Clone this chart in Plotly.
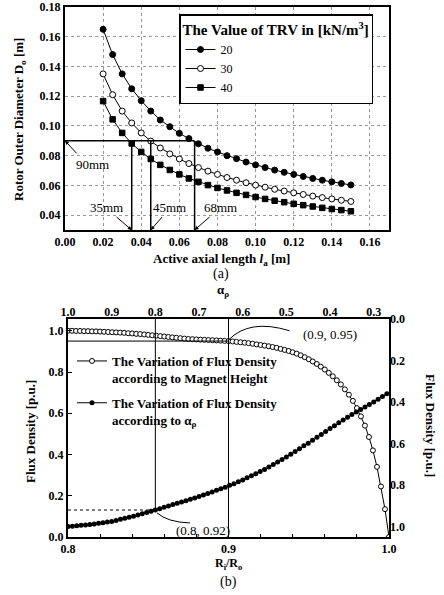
import plotly.graph_objects as go

W, H = 444, 595
def px(x): return x / W
def py(y): return 1 - y / H

# ---------------- data: panel (a) ----------------
axial_len = [0.020, 0.025, 0.030, 0.035, 0.040, 0.045, 0.050, 0.055, 0.060,
             0.065, 0.070, 0.075, 0.080, 0.085, 0.090, 0.095, 0.100, 0.105,
             0.110, 0.115, 0.120, 0.125, 0.130, 0.135, 0.140, 0.145, 0.150]
trv_labels = ["20", "30", "40"]
d_trv20 = [0.165, 0.148, 0.135, 0.125, 0.117, 0.110, 0.104, 0.0995, 0.095,
           0.0915, 0.088, 0.085, 0.0825, 0.080, 0.078, 0.0757, 0.0738, 0.072,
           0.0703, 0.0688, 0.0674, 0.066, 0.0647, 0.0635, 0.0624, 0.0613, 0.0603]
d_trv30 = [0.135, 0.121, 0.110, 0.102, 0.0953, 0.0898, 0.0852, 0.0812, 0.0778,
           0.0747, 0.0720, 0.0696, 0.0674, 0.0653, 0.0635, 0.0618, 0.0602, 0.0588,
           0.0574, 0.0562, 0.0550, 0.0539, 0.0528, 0.0518, 0.0509, 0.0500, 0.0492]
d_trv40 = [0.1167, 0.1044, 0.0953, 0.0882, 0.0825, 0.0778, 0.0738, 0.0704, 0.0674,
           0.0647, 0.0624, 0.0602, 0.0583, 0.0566, 0.0550, 0.0536, 0.0522, 0.0509,
           0.0497, 0.0487, 0.0476, 0.0467, 0.0458, 0.0449, 0.0441, 0.0434, 0.0426]
a_xticks = [0.00, 0.02, 0.04, 0.06, 0.08, 0.10, 0.12, 0.14, 0.16]
a_yticks = [0.04, 0.06, 0.08, 0.10, 0.12, 0.14, 0.16, 0.18]
sel_d = 0.09
sel_len = [0.035, 0.045, 0.068]
sel_labels = ["35mm", "45mm", "68mm"]

# ---------------- data: panel (b) ----------------
ratio_rio = [0.8, 0.8025, 0.805, 0.8075, 0.81, 0.8125, 0.815, 0.8175, 0.82, 0.8225,
             0.825, 0.8275, 0.83, 0.8325, 0.835, 0.8375, 0.84, 0.8425, 0.845, 0.8475,
             0.85, 0.8525, 0.855, 0.8575, 0.86, 0.8625, 0.865, 0.8675, 0.87, 0.8725,
             0.875, 0.8775, 0.88, 0.8825, 0.885, 0.8875, 0.89, 0.8925, 0.895, 0.8975,
             0.9, 0.9025, 0.905, 0.9075, 0.91, 0.9125, 0.915, 0.9175, 0.92, 0.9225,
             0.925, 0.9275, 0.93, 0.9325, 0.935, 0.9375, 0.94, 0.9425, 0.945, 0.9475,
             0.95, 0.9525, 0.955, 0.9575, 0.96, 0.9625, 0.965, 0.9675, 0.97, 0.9725,
             0.975, 0.9775, 0.98, 0.9825, 0.985, 0.9875, 0.99, 0.9925, 0.995, 0.9975, 1.0]
flux_height = [1.000, 1.000, 0.999, 0.999, 0.998, 0.998, 0.997, 0.997, 0.996, 0.995,
               0.994, 0.993, 0.992, 0.991, 0.990, 0.988, 0.987, 0.985, 0.984, 0.982,
               0.980, 0.978, 0.976, 0.974, 0.972, 0.970, 0.968, 0.966, 0.964, 0.962,
               0.960, 0.959, 0.958, 0.957, 0.956, 0.955, 0.954, 0.953, 0.952, 0.951,
               0.950, 0.948, 0.946, 0.944, 0.942, 0.940, 0.937, 0.934, 0.931, 0.928,
               0.925, 0.921, 0.917, 0.912, 0.907, 0.902, 0.896, 0.889, 0.881, 0.872,
               0.862, 0.851, 0.839, 0.826, 0.812, 0.796, 0.779, 0.760, 0.740, 0.716,
               0.690, 0.660, 0.625, 0.585, 0.540, 0.485, 0.420, 0.340, 0.245, 0.135, 0.000]
alpha_p = [1.00, 0.99, 0.98, 0.97, 0.96, 0.95, 0.94, 0.93, 0.92, 0.91,
           0.90, 0.89, 0.88, 0.87, 0.86, 0.85, 0.84, 0.83, 0.82, 0.81,
           0.80, 0.79, 0.78, 0.77, 0.76, 0.75, 0.74, 0.73, 0.72, 0.71,
           0.70, 0.69, 0.68, 0.67, 0.66, 0.65, 0.64, 0.63, 0.62, 0.61,
           0.60, 0.59, 0.58, 0.57, 0.56, 0.55, 0.54, 0.53, 0.52, 0.51,
           0.50, 0.49, 0.48, 0.47, 0.46, 0.45, 0.44, 0.43, 0.42, 0.41,
           0.40, 0.39, 0.38, 0.37, 0.36, 0.35, 0.34, 0.33, 0.32, 0.31,
           0.30, 0.29, 0.28, 0.27]
flux_alpha = [1.000, 0.998, 0.996, 0.994, 0.992, 0.990, 0.987, 0.984, 0.981, 0.978,
              0.975, 0.970, 0.965, 0.960, 0.955, 0.950, 0.944, 0.938, 0.932, 0.926,
              0.920, 0.914, 0.907, 0.901, 0.894, 0.888, 0.881, 0.875, 0.868, 0.862,
              0.855, 0.848, 0.840, 0.833, 0.825, 0.818, 0.810, 0.801, 0.793, 0.784,
              0.775, 0.765, 0.755, 0.745, 0.735, 0.725, 0.713, 0.701, 0.689, 0.677,
              0.665, 0.652, 0.638, 0.625, 0.611, 0.598, 0.584, 0.570, 0.556, 0.542,
              0.528, 0.514, 0.500, 0.487, 0.473, 0.460, 0.448, 0.436, 0.424, 0.412,
              0.400, 0.387, 0.373, 0.360]
b_ratio_ticks = [0.8, 0.9, 1.0]
b_alpha_ticks = [1.0, 0.9, 0.8, 0.7, 0.6, 0.5, 0.4, 0.3]
b_flux_ticks = [0.0, 0.2, 0.4, 0.6, 0.8, 1.0]
pt_height = (0.9, 0.95)
pt_alpha = (0.8, 0.92)

SERIF = "Liberation Serif"
tickf = dict(family=SERIF, size=12, color="black", weight="bold")

fig = go.Figure()

# panel (a) traces
styles = [dict(symbol="circle", color="black", size=6, line=dict(color="black", width=1)),
          dict(symbol="circle", color="white", size=6, line=dict(color="black", width=1)),
          dict(symbol="square", color="black", size=5.5, line=dict(color="black", width=1))]
for lab, ys, st in zip(trv_labels, [d_trv20, d_trv30, d_trv40], styles):
    fig.add_trace(go.Scatter(x=axial_len, y=ys, mode="lines+markers", name=lab,
                             line=dict(color="black", width=1), marker=st,
                             xaxis="x", yaxis="y", legend="legend"))

# panel (b) traces
fig.add_trace(go.Scatter(x=ratio_rio, y=flux_height, mode="lines+markers",
                         name="The Variation of Flux Density<br>according to Magnet Height",
                         line=dict(color="black", width=1),
                         marker=dict(symbol="circle", size=5, color="white",
                                     line=dict(color="black", width=1)),
                         xaxis="x2", yaxis="y2", legend="legend2", legendgroup="g1"))
fig.add_trace(go.Scatter(x=alpha_p, y=flux_alpha, mode="lines+markers",
                         name="The Variation of Flux Density<br>according to α<sub>ρ</sub>",
                         line=dict(color="black", width=1),
                         marker=dict(symbol="circle", size=5, color="black"),
                         xaxis="x3", yaxis="y3", legend="legend2", legendgroup="g2"))

axis_common = dict(showline=True, linecolor="black", linewidth=2, tickfont=tickf,
                   zeroline=False)

dom_a_x = [px(65), px(389)]
dom_a_y = [py(230), py(7)]
dom_b_x = [px(68), px(389)]
dom_b_y = [py(537), py(319)]

shapes = []
# panel (a) guide lines
shapes.append(dict(type="line", xref="x", yref="y", x0=0, x1=sel_len[2], y0=sel_d, y1=sel_d,
                   line=dict(color="black", width=1.5)))
for xv in sel_len:
    shapes.append(dict(type="line", xref="x", yref="y", x0=xv, x1=xv, y0=0.03, y1=sel_d,
                       line=dict(color="black", width=1.5)))
# panel (b) guide lines
shapes.append(dict(type="line", xref="x2", yref="y2", x0=0.8, x1=pt_height[0],
                   y0=pt_height[1], y1=pt_height[1], line=dict(color="black", width=1)))
shapes.append(dict(type="line", xref="x2", yref="y2", x0=pt_height[0], x1=pt_height[0],
                   y0=0, y1=1.057, line=dict(color="black", width=1)))
shapes.append(dict(type="line", xref="x3", yref="y3", x0=pt_alpha[0], x1=pt_alpha[0],
                   y0=0, y1=pt_alpha[1], line=dict(color="black", width=1)))
shapes.append(dict(type="line", xref="x3", yref="y3", x0=1.0, x1=pt_alpha[0],
                   y0=pt_alpha[1], y1=pt_alpha[1], line=dict(color="black", width=1, dash="dot")))
# curved leader lines
shapes.append(dict(type="path", xref="x2", yref="y2",
                   path="M 0.9,0.955 Q 0.913,1.06 0.938,1.0",
                   line=dict(color="black", width=1)))
shapes.append(dict(type="path", xref="x2", yref="y2",
                   path="M 0.8555,0.1165 Q 0.862,0.072 0.876,0.068",
                   line=dict(color="black", width=1)))

ann = []
def txt(x, y, s, size=13, bold=True, angle=0, **kw):
    ann.append(dict(x=px(x), y=py(y), xref="paper", yref="paper", text=s, showarrow=False,
                    textangle=angle, xanchor="center", yanchor="middle",
                    font=dict(family=SERIF, size=size, color="black",
                              weight="bold" if bold else "normal"), **kw))

txt(20, 120, "Rotor Outer Diameter D<sub>o</sub> [m]", angle=-90)
txt(221, 259, "Active axial length <i>l</i><sub>a</sub> [m]")
txt(221, 274, "(a)", bold=False, size=14)
txt(223, 290, "α<sub>ρ</sub>", size=13)
txt(30, 432, "Flux Density [p.u.]", angle=-90)
txt(431, 425, "Flux Density [p.u.]", angle=90)
txt(229, 564, "R<sub>i</sub>/R<sub>o</sub>", size=12)
txt(229, 582, "(b)", bold=False, size=14)
txt(330, 334, "(0.9, 0.95)", bold=False)
txt(203, 530, "(0.8, 0.92)", bold=False)
txt(92, 164, "90mm", bold=False)

# arrows pointing to selected lengths
text_pos = [(106, 207), (170, 207), (220, 207)]
for xv, lab, (tx, ty) in zip(sel_len, sel_labels, text_pos):
    x_pix = 65 + xv / 0.17 * 324
    ann.append(dict(x=xv, y=0.03, xref="x", yref="y", text=lab, showarrow=True,
                    ax=tx - x_pix, ay=ty - 229, arrowhead=2, arrowsize=0.8, arrowwidth=1,
                    arrowcolor="black", standoff=0,
                    font=dict(family=SERIF, size=13, color="black")))
ann.append(dict(x=0.0, y=sel_d, xref="x", yref="y", text="", showarrow=True,
                ax=13, ay=14, arrowhead=2, arrowsize=0.8, arrowwidth=1, arrowcolor="black"))

fig.update_layout(
    width=W, height=H, margin=dict(l=0, r=0, t=0, b=0, autoexpand=False),
    paper_bgcolor="white", plot_bgcolor="white",
    font=dict(family=SERIF, color="black"),
    xaxis=dict(domain=dom_a_x, anchor="y", range=[0, 0.17], tickvals=a_xticks,
               tickformat=".2f", mirror=True, showgrid=True, gridcolor="#999",
               griddash="dot", gridwidth=1, ticks="", **axis_common),
    yaxis=dict(domain=dom_a_y, anchor="x", range=[0.03, 0.18], tickvals=a_yticks,
               tickformat=".2f", mirror=True, showgrid=True, gridcolor="#999",
               griddash="dot", gridwidth=1, ticks="", **axis_common),
    xaxis2=dict(domain=dom_b_x, anchor="y2", range=[0.8, 1.0], tickvals=b_ratio_ticks,
                tickformat=".1f", mirror=True, showgrid=False, ticks="inside", ticklen=4,
                tickcolor="black", minor=dict(dtick=0.02, ticks="inside", ticklen=3, tickcolor="black"),
                **axis_common),
    yaxis2=dict(domain=dom_b_y, anchor="x2", range=[0, 1.057], tickvals=b_flux_ticks,
                tickformat=".1f", mirror=True, showgrid=False, ticks="inside", ticklen=4,
                tickcolor="black", **axis_common),
    xaxis3=dict(overlaying="x2", anchor="y2", side="top", range=[1.0, 0.265],
                tickvals=b_alpha_ticks, tickformat=".1f", showgrid=False, ticks="",
                showline=False, tickfont=tickf, zeroline=False),
    yaxis3=dict(overlaying="y2", anchor="x2", side="right", range=[1.05, 0],
                tickvals=b_flux_ticks, tickformat=".1f", showgrid=False, ticks="",
                showline=False, tickfont=tickf, zeroline=False),
    legend=dict(x=px(179), y=py(14), xanchor="left", yanchor="top",
                bordercolor="black", borderwidth=1.5, bgcolor="white",
                title=dict(text="The Value of TRV in [kN/m<sup>3</sup>]",
                           font=dict(family=SERIF, size=15, weight="bold")),
                font=dict(family=SERIF, size=12, color="black"),
                tracegroupgap=0, itemwidth=30),
    legend2=dict(x=px(72), y=py(346), xanchor="left", yanchor="top",
                 bgcolor="rgba(0,0,0,0)", borderwidth=0, valign="top",
                 font=dict(family=SERIF, size=13, color="black", weight="bold"),
                 tracegroupgap=5, itemwidth=30),
    shapes=shapes, annotations=ann,
)

fig.write_html("out.html", config={"displayModeBar": False},
               post_script="document.body.style.margin='0px';")
